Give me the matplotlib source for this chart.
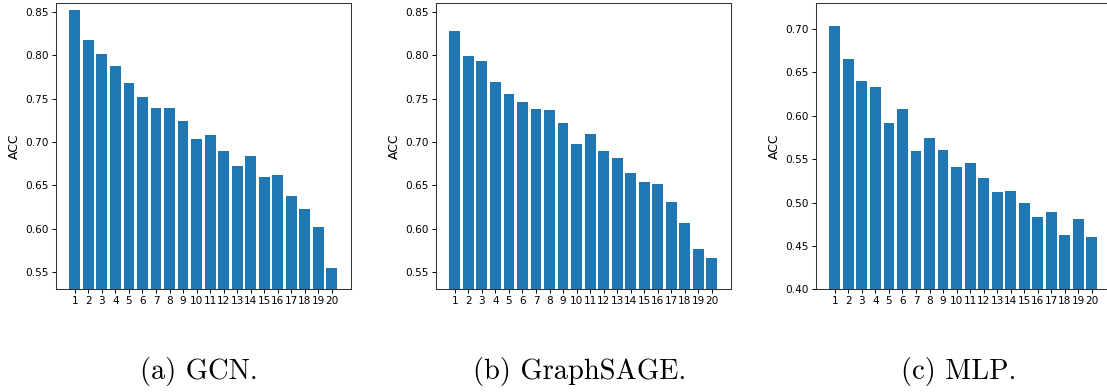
import numpy as np
import matplotlib
matplotlib.use("Agg")
import matplotlib.pyplot as plt

# Accuracy per ranked group for three models
groups = list(range(1, 21))
acc_gcn = [0.852, 0.817, 0.801, 0.787, 0.768, 0.752, 0.739, 0.739, 0.724, 0.703,
           0.708, 0.689, 0.672, 0.684, 0.660, 0.662, 0.638, 0.623, 0.602, 0.554]
acc_sage = [0.828, 0.799, 0.793, 0.769, 0.755, 0.746, 0.738, 0.737, 0.722, 0.698,
            0.709, 0.689, 0.681, 0.664, 0.654, 0.652, 0.631, 0.607, 0.577, 0.566]
acc_mlp = [0.703, 0.665, 0.640, 0.633, 0.592, 0.608, 0.559, 0.574, 0.561, 0.541,
           0.546, 0.528, 0.512, 0.513, 0.500, 0.483, 0.489, 0.463, 0.481, 0.460]

captions = ["(a) GCN.", "(b) GraphSAGE.", "(c) MLP."]
ylims = [(0.53, 0.8605), (0.53, 0.8605), (0.40, 0.7303)]
series = [acc_gcn, acc_sage, acc_mlp]

W, H = 1107, 392
fig = plt.figure(figsize=(W / 100, H / 100), dpi=100)

lefts = [56, 436, 816]
ax_w, ax_top, ax_bot = 294.7, 2.7, 289.3
caption_x = [199, 580, 959]
caption_base = 379.5

for left, vals, ylim, cap, cx in zip(lefts, series, ylims, captions, caption_x):
    ax = fig.add_axes([left / W, 1 - ax_bot / H, ax_w / W, (ax_bot - ax_top) / H])
    ax.bar(groups, vals, width=0.8, color="#1f77b4")
    ax.set_ylim(*ylim)
    ax.set_xticks(groups)
    ax.set_xticklabels([str(g) for g in groups])
    ax.tick_params(labelsize=7.6, length=2.8, width=0.7, pad=2.2)
    ax.set_ylabel("ACC", fontsize=8.9, labelpad=3)
    for sp in ax.spines.values():
        sp.set_linewidth(0.75)
        sp.set_color("#333333")
    fig.text(cx / W, 1 - caption_base / H, cap, ha="center", va="baseline",
             fontsize=20.5, family="cmr10")

fig.savefig("out.png", dpi=100)
